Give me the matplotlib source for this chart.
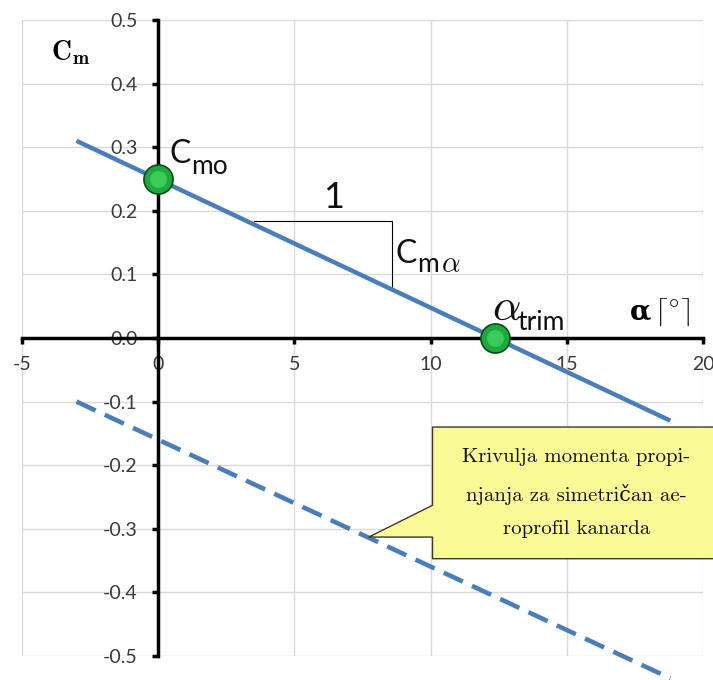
import numpy as np
import matplotlib
matplotlib.use("Agg")
import matplotlib.pyplot as plt
from matplotlib.patches import Polygon

plt.rcParams['axes.unicode_minus'] = False
plt.rcParams['font.family'] = ['Lato', 'DejaVu Sans']

# Cm vs alpha lines (end points)
alpha_line = [-3.0, 18.8]
cm_line = [0.31, -0.13]          # airplane, Cm = 0.25 - 0.0202*alpha
alpha_canard = [-3.0, 18.8]
cm_canard = [-0.10, -0.535]      # symmetric canard airfoil

# marked points: Cm0 and alpha_trim
pt_alpha = [0.0, 12.38]
pt_cm = [0.25, 0.0]

x_ticks = [-5, 0, 5, 10, 15, 20]
y_ticks = [-0.5, -0.4, -0.3, -0.2, -0.1, 0.0, 0.1, 0.2, 0.3, 0.4, 0.5]

callout_text = "Krivulja momenta propi-\nnjanja za simetričan ae-\nroprofil kanarda"

blue = '#4a7ebb'

fig = plt.figure(figsize=(7.13, 6.8), dpi=100)
ax = fig.add_axes([22/713, 1 - 656/680, 681/713, 636/680])
ax.set_xlim(-5, 20)
ax.set_ylim(-0.5, 0.5)

ax.set_xticks(x_ticks)
ax.set_yticks(y_ticks)
ax.set_xticklabels([str(t) for t in x_ticks])
ax.set_yticklabels(['%.1f' % t for t in y_ticks])
ax.grid(True, color='#d9d9d9', lw=1.0)
ax.set_axisbelow(True)

for s in ['top', 'right']:
    ax.spines[s].set_visible(False)
ax.spines['left'].set_position(('data', 0))
ax.spines['bottom'].set_position(('data', 0))
for s in ['left', 'bottom']:
    ax.spines[s].set_linewidth(2.5)
    ax.spines[s].set_color('black')
    ax.spines[s].set_zorder(3)
ax.tick_params(axis='both', direction='out', width=2.5, length=4.3,
               labelsize=14, labelcolor='#3a3a3a')
ax.tick_params(axis='y', pad=10.5)
ax.tick_params(axis='x', pad=9)

# lines
ax.plot(alpha_line, cm_line, color=blue, lw=3.2, solid_capstyle='butt', zorder=4)
ax.plot(alpha_canard, cm_canard, color=blue, lw=3.3, dashes=(4.6, 2.2),
        clip_on=False, zorder=4)

# green points
ax.scatter(pt_alpha, pt_cm, s=440, color='#1fa83c', edgecolor='#0b4a18',
           lw=1.2, zorder=6, clip_on=False)
ax.scatter(pt_alpha, pt_cm, s=150, color='#3acb58', lw=0, zorder=7, clip_on=False)

# slope triangle
ax.plot([3.52, 8.6, 8.6], [0.184, 0.184, 0.078], color='black', lw=0.8, zorder=3)
ax.text(6.45, 0.204, '1', fontsize=26, ha='center', va='baseline', color='#111111')

# point labels
ax.text(0.4, 0.275, 'C', fontsize=23, ha='left', va='baseline', color='#111111')
ax.text(1.22, 0.258, 'mo', fontsize=19, ha='left', va='baseline', color='#111111')
ax.text(8.72, 0.118, 'C', fontsize=23, ha='left', va='baseline', color='#111111')
ax.text(9.52, 0.104, 'm', fontsize=19, ha='left', va='baseline', color='#111111')
ax.text(10.38, 0.104, r'$\alpha$', fontsize=21, ha='left', va='baseline',
        color='#111111', math_fontfamily='cm')
ax.text(12.25, 0.029, r'$\alpha$', fontsize=32, ha='left', va='baseline',
        color='#111111', math_fontfamily='cm')
ax.text(13.2, 0.012, 'trim', fontsize=19, ha='left', va='baseline', color='#111111')

# axis names
ax.text(-3.92, 0.436, r'$\mathbf{C}_{\mathbf{m}}$', fontsize=20, ha='left',
        va='baseline', math_fontfamily='cm', color='black')
ax.text(17.3, 0.029, 'α', fontsize=20, fontweight='bold', family='DejaVu Serif',
        ha='left', va='baseline', color='black')
ax.text(18.2, 0.029, r'$\lceil^{\circ}\rceil$', fontsize=21, ha='left',
        va='baseline', math_fontfamily='cm', color='black')

# callout box
box = Polygon([[10.07, -0.14], [20.5, -0.14], [20.5, -0.347], [10.07, -0.347],
               [10.07, -0.313], [7.73, -0.313], [10.07, -0.263]],
              closed=True, facecolor='#fafa96', edgecolor='#3a3a2a', lw=1.0,
              clip_on=False, zorder=8)
ax.add_patch(box)
ax.text(15.35, -0.244, callout_text, fontsize=15, ha='center', va='center',
        family=['cmr10', 'DejaVu Serif'], linespacing=2.05, zorder=9, color='#111111')

fig.savefig('out.png', dpi=100)
